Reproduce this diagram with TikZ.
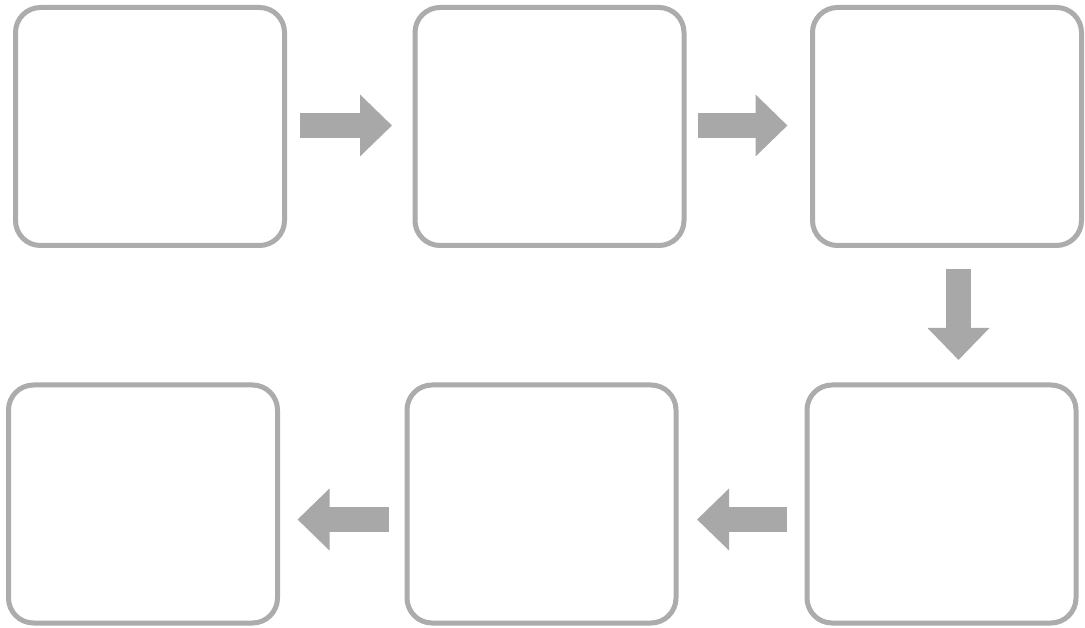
\documentclass[tikz,border=0pt]{standalone}
\usetikzlibrary{arrows.meta,calc}
\definecolor{boxgray}{RGB}{172,172,172}
\definecolor{arrgray}{RGB}{168,168,168}
\begin{document}
\begin{tikzpicture}[x=1pt,y=-1pt,
  stepbox/.style={draw=boxgray,line width=5pt,rounded corners=25pt,fill=white,
    minimum width=269pt,minimum height=238pt,inner sep=0pt,outer sep=0pt},
  blockarrow/.style={draw=arrgray,line width=25pt,
    -{Triangle[length=32pt 0 0,width=60pt 0 0,fill=arrgray]}}]
\useasboundingbox[fill=white] (0,0) rectangle (1085,628);
\node[stepbox] (b1) at (150,126.5) {};
\node[stepbox] (b2) at (549.5,126.5) {};
\node[stepbox] (b3) at (947,126.5) {};
\node[stepbox] (b4) at (143,504) {};
\node[stepbox] (b5) at (541.5,504) {};
\node[stepbox] (b6) at (941.5,504) {};
\draw[blockarrow] ($(b1.east)+(15,-1)$) -- ($(b2.west)+(-23,-1)$);
\draw[blockarrow] ($(b2.east)+(14,-1)$) -- ($(b3.west)+(-25,-1)$);
\draw[blockarrow] ($(b3.south)+(11.5,24)$) -- ($(b6.north)+(17,-25)$);
\draw[blockarrow] ($(b6.west)+(-20,15.5)$) -- ($(b5.east)+(21,15.5)$);
\draw[blockarrow] ($(b5.west)+(-18,15.5)$) -- ($(b4.east)+(20,15.5)$);
\end{tikzpicture}
\end{document}
